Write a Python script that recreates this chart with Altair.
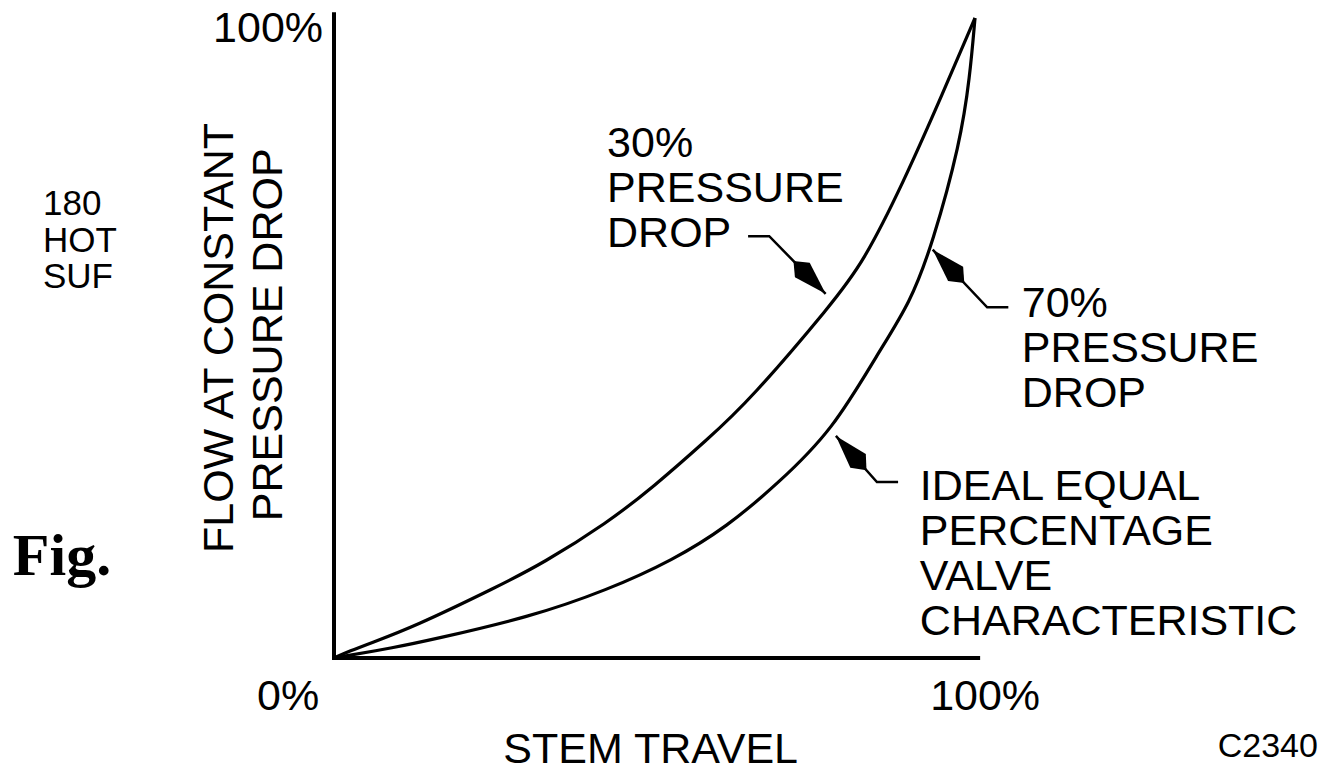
import altair as alt
import pandas as pd
import numpy as np

# ---------------- data (percent of stem travel / percent of flow) ----------------
stem_30 = [0, 2.5, 5.6, 12.3, 25.4, 32.6, 42.6, 49.8, 58.2, 64.9, 77.8, 82.5, 88.8, 95.0, 100]
flow_30 = [0, 1.1, 2.3, 4.8, 11.1, 14.8, 21.1, 26.7, 34.1, 40.3, 55.5, 61.7, 74.2, 88.3, 100]

stem_70 = [0, 9.8, 15.0, 30.6, 42.6, 52.9, 61.3, 69.3, 77.8, 84.9, 89.9, 93.4, 97.7, 99.2, 100]
flow_70 = [0, 1.7, 2.8, 6.4, 10.6, 15.3, 20.5, 27.3, 35.6, 47.7, 55.5, 64.8, 80.5, 90.8, 100]

# callout arrows: tail end, bend, tip (data units)
arrow_ids = ["a30", "a70", "ideal"]
arrow_end_x = [64.6, 105.2, 88.0]
arrow_end_y = [65.9, 54.8, 27.5]
arrow_bend_x = [67.9, 101.9, 84.7]
arrow_bend_y = [65.9, 54.8, 27.5]
arrow_tip_x = [76.7, 93.4, 78.3]
arrow_tip_y = [56.9, 63.8, 34.7]

# annotation texts
label_30 = "30%\nPRESSURE\nDROP"
label_70 = "70%\nPRESSURE\nDROP"
label_ideal = "IDEAL EQUAL\nPERCENTAGE\nVALVE\nCHARACTERISTIC"
y_title = ["FLOW AT CONSTANT", "PRESSURE DROP"]
x_title = "STEM TRAVEL"
tick_0 = "0%"
tick_100 = "100%"
fig_code = "C2340"
side_text = "180\nHOT\nSUF"
fig_text = "Fig."

# ---------------- layout scale (page pixels per data unit) ----------------
W, H = 1311, 757
KX, KY = 6.41, 6.4
X0_PLOT, Y0_PLOT = 326, 650          # plot position of data origin
x_dom = [-X0_PLOT / KX, (W - X0_PLOT) / KX]
y_dom = [(Y0_PLOT - H) / KY, Y0_PLOT / KY]

xs = alt.Scale(domain=x_dom, nice=False, zero=False)
ys = alt.Scale(domain=y_dom, nice=False, zero=False)


def X(f="x"):
    return alt.X(f"{f}:Q", scale=xs, axis=None)


def Y(f="y"):
    return alt.Y(f"{f}:Q", scale=ys, axis=None)


curves = pd.concat([
    pd.DataFrame({"x": stem_30, "y": flow_30, "s": "30", "o": range(len(stem_30))}),
    pd.DataFrame({"x": stem_70, "y": flow_70, "s": "70", "o": range(len(stem_70))}),
])

curve_layer = alt.Chart(curves).mark_line(
    color="black", strokeWidth=3.2, interpolate="basis"
).encode(x=X(), y=Y(), detail="s:N", order="o:Q")

axes_df = pd.DataFrame({
    "x": [0, -0.3], "x2": [0, 100.8],
    "y": [-0.3, 0], "y2": [100.9, 0],
})
axes_layer = alt.Chart(axes_df).mark_rule(color="black", strokeWidth=4).encode(
    x=X(), x2="x2:Q", y=Y(), y2="y2:Q"
)

# arrow shafts
rows = []
for i, a in enumerate(arrow_ids):
    rows.append({"id": a, "o": 0, "x": arrow_end_x[i], "y": arrow_end_y[i]})
    rows.append({"id": a, "o": 1, "x": arrow_bend_x[i], "y": arrow_bend_y[i]})
    rows.append({"id": a, "o": 2, "x": arrow_tip_x[i], "y": arrow_tip_y[i]})
shaft_df = pd.DataFrame(rows)
shaft_layer = alt.Chart(shaft_df).mark_line(color="black", strokeWidth=2.5).encode(
    x=X(), y=Y(), detail="id:N", order="o:Q"
)

# arrow heads
dx = (np.array(arrow_tip_x) - np.array(arrow_bend_x)) * KX
dy = -(np.array(arrow_tip_y) - np.array(arrow_bend_y)) * KY
ang = (np.degrees(np.arctan2(dx, -dy)) + 360) % 360
head_df = pd.DataFrame({"x": arrow_tip_x, "y": arrow_tip_y, "a": ang})
head_layer = alt.Chart(head_df).mark_point(
    shape="M0,0L0.45,1.45L0,2L-0.45,1.45Z", filled=True, color="black", opacity=1,
    size=2116, strokeWidth=0
).encode(x=X(), y=Y(), angle=alt.Angle("a:Q", scale=None))

FONT = "Liberation Sans"


def text_layer(x, y, txt, size=43, align="left", angle=0, font=FONT, weight="normal",
               line_height=45):
    df = pd.DataFrame({"x": [x], "y": [y], "t": [txt]})
    kw = dict(font=font, fontSize=size, align=align, baseline="alphabetic",
              color="black", lineBreak="\n", lineHeight=line_height, fontWeight=weight)
    if angle:
        kw["angle"] = angle
    return alt.Chart(df).mark_text(**kw).encode(x=X(), y=Y(), text="t:N")


texts = [
    text_layer(42.6, 78.3, label_30),
    text_layer(107.3, 53.3, label_70),
    text_layer(91.4, 24.7, label_ideal),
    text_layer(-1.7, 96.25, tick_100, align="right"),
    text_layer(-12.0, -8.1, tick_0),
    text_layer(93.0, -8.1, tick_100),
    text_layer(49.4, -16.4, x_title, align="center"),
    text_layer(-15.76, 50.0, y_title[0], align="center", angle=270),
    text_layer(-8.11, 50.5, y_title[1], align="center", angle=270),
    text_layer(153.5, -15.5, fig_code, size=34, align="right"),
    text_layer(-45.4, 69.2, side_text, size=35, line_height=36.5),
    text_layer(-50.1, 13.0, fig_text, size=60, font="Liberation Serif", weight="bold"),
]

chart = alt.layer(axes_layer, curve_layer, shaft_layer, head_layer, *texts).properties(
    width=W, height=H,
    autosize=alt.AutoSizeParams(type="none"),
    padding=0,
    background="white",
).configure_view(stroke=None)

chart.save("out.html", embed_options={"renderer": "svg", "actions": False})
